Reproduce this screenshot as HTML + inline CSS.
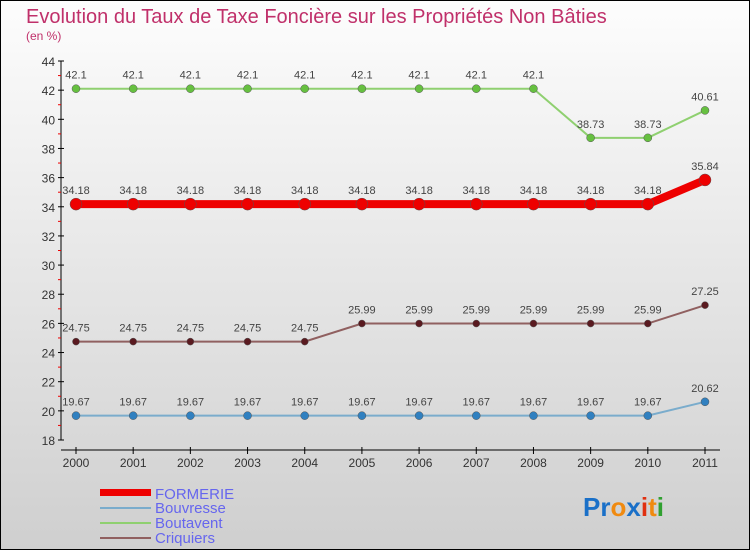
<!DOCTYPE html>
<html><head><meta charset="utf-8"><style>
body{margin:0}
svg{display:block;font-family:"Liberation Sans",sans-serif}
</style></head><body>
<svg id="c" width="750" height="550" xmlns="http://www.w3.org/2000/svg">
<defs><linearGradient id="bg" x1="0" y1="0" x2="0" y2="1"><stop offset="0" stop-color="#fdfdfd"/><stop offset="1" stop-color="#cfcfcf"/></linearGradient></defs>
<rect x="0.5" y="0.5" width="749" height="549" fill="url(#bg)" stroke="#000"/>
<text x="26" y="23" font-size="20" fill="#c0306a">Evolution du Taux de Taxe Foncière sur les Propriétés Non Bâties</text>
<text x="26" y="40" font-size="12" fill="#c0306a">(en %)</text>
<g id="axes"></g><g id="series"></g>
<g>
<rect x="100" y="489" width="51" height="7" fill="#e00"/>
<text x="155" y="499" font-size="15" fill="#6666ee">FORMERIE</text>
<line x1="100" x2="151" y1="508" y2="508" stroke="#7aaccc" stroke-width="2"/>
<text x="155" y="513" font-size="15" fill="#6666ee">Bouvresse</text>
<line x1="100" x2="151" y1="523" y2="523" stroke="#8fd070" stroke-width="2"/>
<text x="155" y="528" font-size="15" fill="#6666ee">Boutavent</text>
<line x1="100" x2="151" y1="538" y2="538" stroke="#906060" stroke-width="2"/>
<text x="155" y="543" font-size="15" fill="#6666ee">Criquiers</text>
</g>
<text x="583" y="516" font-size="26" font-weight="bold"><tspan fill="#1a70c8">Pr</tspan><tspan fill="#f08a10">o</tspan><tspan fill="#1a70c8">x</tspan><tspan fill="#e03010">i</tspan><tspan fill="#f08a10">t</tspan><tspan fill="#30a030">i</tspan></text>
</svg>
<script>
const years=[2000,2001,2002,2003,2004,2005,2006,2007,2008,2009,2010,2011];
const yTicks=[18,20,22,24,26,28,30,32,34,36,38,40,42,44];
const formerie=[34.18,34.18,34.18,34.18,34.18,34.18,34.18,34.18,34.18,34.18,34.18,35.84];
const bouvresse=[19.67,19.67,19.67,19.67,19.67,19.67,19.67,19.67,19.67,19.67,19.67,20.62];
const boutavent=[42.1,42.1,42.1,42.1,42.1,42.1,42.1,42.1,42.1,38.73,38.73,40.61];
const criquiers=[24.75,24.75,24.75,24.75,24.75,25.99,25.99,25.99,25.99,25.99,25.99,27.25];
const NS="http://www.w3.org/2000/svg";
const X=i=>76+i*(629/(years.length-1));
const Y=v=>440-(v-18)*(379/26);
function mk(p,t,a){const e=document.createElementNS(NS,t);for(const k in a)e.setAttribute(k,a[k]);p.appendChild(e);return e;}
const ax=document.getElementById('axes');
const yl=mk(ax,'line',{x1:61,x2:61,y1:Y(44),y2:Y(18),stroke:'#000'});


yTicks.forEach(v=>{
 mk(ax,'line',{x1:58,x2:64,y1:Y(v),y2:Y(v),stroke:'#000'});
 if(v<44)mk(ax,'line',{x1:58,x2:61,y1:Y(v+1),y2:Y(v+1),stroke:'#e00'});
 const t=mk(ax,'text',{x:55,y:Y(v)+5,'font-size':12,fill:'#333','text-anchor':'end'});t.textContent=v;
 
 
});
const xl=mk(ax,'line',{x1:61,x2:720,y1:450,y2:450,stroke:'#000'});


years.forEach((y,i)=>{
 mk(ax,'line',{x1:X(i),x2:X(i),y1:447,y2:454,stroke:'#000'});
 const t=mk(ax,'text',{x:X(i),y:467,'font-size':12,fill:'#333','text-anchor':'middle'});t.textContent=y;
 
 
});
const sg=document.getElementById('series');
function series(d,name,col,dot,w,r){
 const g=mk(sg,'g',{});
 
 
 mk(g,'polyline',{points:d.map((v,i)=>X(i)+','+Y(v)).join(' '),fill:'none',stroke:col,'stroke-width':w});
 d.forEach((v,i)=>{
  const c=mk(g,'circle',{cx:X(i),cy:Y(v),r:r,fill:dot,stroke:'#555','stroke-width':0.5});
  
  
  const t=mk(g,'text',{x:X(i),y:Y(v)-10,'font-size':11,fill:'#444','text-anchor':'middle'});t.textContent=v;
  
  
 });
}
series(boutavent,'boutavent','#8fd070','#66c040',2,4);
series(criquiers,'criquiers','#906060','#5a1a20',2,3.5);
series(bouvresse,'bouvresse','#7aaccc','#3080c0',2,4);
series(formerie,'formerie','#e00','#e00',8,6);
</script>
</body></html>
